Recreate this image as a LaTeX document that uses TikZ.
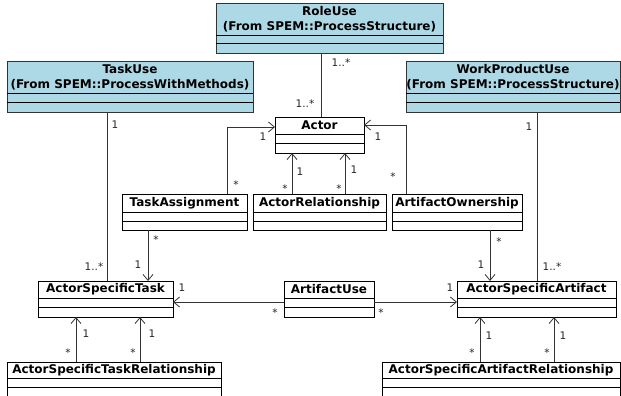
\documentclass[tikz,border=0pt]{standalone}
\usepackage{fontspec}
\setmainfont{DejaVu Sans}
\usetikzlibrary{arrows.meta}
\definecolor{umlblue}{HTML}{ADD8E6}
\definecolor{umlline}{HTML}{333333}
\tikzset{
  cls/.style={draw=black, line width=0.8pt, fill=white, inner sep=0pt, outer sep=0pt},
  ext/.style={draw=umlline, line width=0.8pt, fill=umlblue, inner sep=0pt, outer sep=0pt},
  sepline/.style={line width=0.8pt},
  ttl/.style={font=\bfseries\fontsize{12}{14.5}\selectfont, align=center, inner sep=0pt},
  ml/.style={font=\fontsize{10.5}{11}\selectfont, inner sep=0pt, text=black!85},
  assoc/.style={draw=umlline, line width=0.8pt},
  nav/.style={assoc, -{Straight Barb[length=6pt,width=10pt,line width=0.8pt]}},
}
% #1 name, #2 x1, #3 y1, #4 x2, #5 y2, #6 sep1, #7 sep2, #8 style, #9 text
\newcommand\umlbox[9]{%
  \node[#8, anchor=north west, minimum width={(#4-#2)*1pt}, minimum height={(#5-#3)*1pt}] (#1) at (#2,#3) {};
  \draw[sepline] (#1.north west |- #2,#6) -- (#1.north east |- #2,#6);
  \draw[sepline] (#1.north west |- #2,#7) -- (#1.north east |- #2,#7);
  \node[ttl] (#1-t) at ({(#2+#4)/2},{(#3+#6)/2}) {#9};
}
\newcommand\mlab[4]{\node[ml] (#1) at (#2,#3) {#4};}
\begin{document}
\begin{tikzpicture}[x=1pt,y=-1pt]
\useasboundingbox (0,0) rectangle (621,396);
\clip (0,0) rectangle (621,396);
% blue classes
\umlbox{RoleUse}{216}{3}{443}{53}{35}{43}{ext}{RoleUse\\(From SPEM::ProcessStructure)}
\umlbox{TaskUse}{7}{61}{253}{112}{93}{102}{ext}{TaskUse\\(From SPEM::ProcessWithMethods)}
\umlbox{WorkProductUse}{406}{61}{620}{112}{93}{102}{ext}{WorkProductUse\\(From SPEM::ProcessStructure)}
% classes
\umlbox{Actor}{275}{117}{364}{153}{134}{143}{cls}{Actor}
\umlbox{TaskAssignment}{122}{194}{247}{230}{212}{221}{cls}{TaskAssignment}
\umlbox{ActorRelationship}{253}{194}{386}{230}{212}{221}{cls}{ActorRelationship}
\umlbox{ArtifactOwnership}{392}{194}{522}{230}{212}{221}{cls}{ArtifactOwnership}
\umlbox{ActorSpecificTask}{38}{281}{173}{317}{298}{307}{cls}{ActorSpecificTask}
\umlbox{ArtifactUse}{284}{281}{374}{317}{298}{307}{cls}{ArtifactUse}
\umlbox{ActorSpecificArtifact}{457}{281}{616}{317}{298}{307}{cls}{ActorSpecificArtifact}
\umlbox{ASTR}{7}{362}{221}{402}{378}{387}{cls}{ActorSpecificTaskRelationship}
\umlbox{ASAR}{382}{362}{620}{402}{378}{387}{cls}{ActorSpecificArtifactRelationship}
% plain associations
\draw[assoc] (RoleUse.south -| 321,0) -- (Actor.north -| 321,0);
\draw[assoc] (TaskUse.south -| 107,0) -- (ActorSpecificTask.north -| 107,0);
\draw[assoc] (WorkProductUse.south -| 537,0) -- (ActorSpecificArtifact.north -| 537,0);
% navigable associations
\draw[nav] (TaskAssignment.north -| 227,0) |- (Actor.west |- 0,127);
\draw[nav] (ArtifactOwnership.north -| 406,0) |- (Actor.east |- 0,125);
\draw[nav] (ActorRelationship.north -| 292,0) -- (Actor.south -| 292,0);
\draw[nav] (ActorRelationship.north -| 345,0) -- (Actor.south -| 345,0);
\draw[nav] (TaskAssignment.south -| 148,0) -- (ActorSpecificTask.north -| 148,0);
\draw[nav] (ArtifactOwnership.south -| 490,0) -- (ActorSpecificArtifact.north -| 490,0);
\draw[nav] (ArtifactUse.west |- 0,302) -- (ActorSpecificTask.east |- 0,302);
\draw[nav] (ArtifactUse.east |- 0,302) -- (ActorSpecificArtifact.west |- 0,302);
\draw[nav] (ASTR.north -| 76,0) -- (ActorSpecificTask.south -| 76,0);
\draw[nav] (ASTR.north -| 140,0) -- (ActorSpecificTask.south -| 140,0);
\draw[nav] (ASAR.north -| 480,0) -- (ActorSpecificArtifact.south -| 480,0);
\draw[nav] (ASAR.north -| 554,0) -- (ActorSpecificArtifact.south -| 554,0);
% multiplicities
\mlab{m1}{341}{63}{1..*}
\mlab{m2}{305}{104}{1..*}
\mlab{m3}{115}{125}{1}
\mlab{m4}{94}{267}{1..*}
\mlab{m5}{138}{265}{1}
\mlab{m6}{156}{240}{*}
\mlab{m7}{263}{137}{1}
\mlab{m8}{236}{185}{*}
\mlab{m9}{300}{172}{1}
\mlab{m10}{285}{189}{*}
\mlab{m11}{354}{170}{1}
\mlab{m12}{339}{189}{*}
\mlab{m13}{378}{137}{1}
\mlab{m14}{393}{177}{*}
\mlab{m15}{529}{127}{1}
\mlab{m16}{552}{267}{1..*}
\mlab{m17}{481}{265}{1}
\mlab{m18}{499}{242}{*}
\mlab{m19}{182}{288}{1}
\mlab{m20}{275}{313}{*}
\mlab{m21}{381}{313}{*}
\mlab{m22}{450}{288}{1}
\mlab{m23}{86}{334}{1}
\mlab{m24}{68}{353}{*}
\mlab{m25}{152}{334}{1}
\mlab{m26}{133}{353}{*}
\mlab{m27}{489}{336}{1}
\mlab{m28}{472}{353}{*}
\mlab{m29}{563}{336}{1}
\mlab{m30}{547}{353}{*}
\end{tikzpicture}
\end{document}
